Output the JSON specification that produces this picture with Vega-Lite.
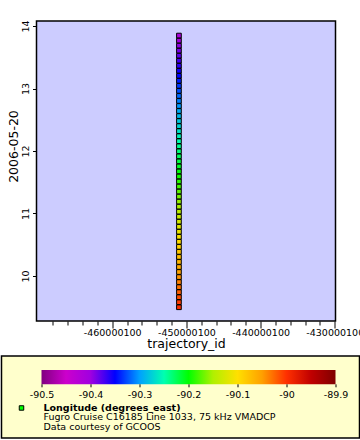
{
  "$schema": "https://vega.github.io/schema/vega-lite/v6.json",
  "background": "white",
  "padding": {"left": 0.5, "top": 19, "right": 0, "bottom": 0},
  "spacing": 4,
  "config": {
    "font": "DejaVu Sans",
    "axis": {"labelFont": "DejaVu Sans", "titleFont": "DejaVu Sans", "labelColor": "black", "titleColor": "black", "tickColor": "black", "domainColor": "black", "grid": false, "titleFontWeight": "normal"},
    "text": {"font": "DejaVu Sans"}
  },
  "vconcat": [
    {
      "width": 299,
      "height": 300,
      "view": {"fill": "#CCCCFF", "stroke": "black", "strokeWidth": 1.5},
      "data": {"values": [
        {"trajectory_id": -451000100, "hour": 9.500, "lon": -89.998},
        {"trajectory_id": -451000100, "hour": 9.581, "lon": -90.006},
        {"trajectory_id": -451000100, "hour": 9.661, "lon": -90.013},
        {"trajectory_id": -451000100, "hour": 9.742, "lon": -90.021},
        {"trajectory_id": -451000100, "hour": 9.822, "lon": -90.029},
        {"trajectory_id": -451000100, "hour": 9.903, "lon": -90.036},
        {"trajectory_id": -451000100, "hour": 9.983, "lon": -90.044},
        {"trajectory_id": -451000100, "hour": 10.064, "lon": -90.052},
        {"trajectory_id": -451000100, "hour": 10.144, "lon": -90.059},
        {"trajectory_id": -451000100, "hour": 10.225, "lon": -90.067},
        {"trajectory_id": -451000100, "hour": 10.305, "lon": -90.075},
        {"trajectory_id": -451000100, "hour": 10.386, "lon": -90.082},
        {"trajectory_id": -451000100, "hour": 10.466, "lon": -90.090},
        {"trajectory_id": -451000100, "hour": 10.547, "lon": -90.097},
        {"trajectory_id": -451000100, "hour": 10.627, "lon": -90.105},
        {"trajectory_id": -451000100, "hour": 10.708, "lon": -90.113},
        {"trajectory_id": -451000100, "hour": 10.788, "lon": -90.120},
        {"trajectory_id": -451000100, "hour": 10.869, "lon": -90.128},
        {"trajectory_id": -451000100, "hour": 10.949, "lon": -90.135},
        {"trajectory_id": -451000100, "hour": 11.030, "lon": -90.143},
        {"trajectory_id": -451000100, "hour": 11.110, "lon": -90.151},
        {"trajectory_id": -451000100, "hour": 11.191, "lon": -90.158},
        {"trajectory_id": -451000100, "hour": 11.271, "lon": -90.166},
        {"trajectory_id": -451000100, "hour": 11.352, "lon": -90.174},
        {"trajectory_id": -451000100, "hour": 11.432, "lon": -90.181},
        {"trajectory_id": -451000100, "hour": 11.513, "lon": -90.189},
        {"trajectory_id": -451000100, "hour": 11.593, "lon": -90.196},
        {"trajectory_id": -451000100, "hour": 11.674, "lon": -90.204},
        {"trajectory_id": -451000100, "hour": 11.754, "lon": -90.212},
        {"trajectory_id": -451000100, "hour": 11.835, "lon": -90.219},
        {"trajectory_id": -451000100, "hour": 11.915, "lon": -90.227},
        {"trajectory_id": -451000100, "hour": 11.996, "lon": -90.234},
        {"trajectory_id": -451000100, "hour": 12.076, "lon": -90.242},
        {"trajectory_id": -451000100, "hour": 12.157, "lon": -90.250},
        {"trajectory_id": -451000100, "hour": 12.237, "lon": -90.257},
        {"trajectory_id": -451000100, "hour": 12.318, "lon": -90.265},
        {"trajectory_id": -451000100, "hour": 12.398, "lon": -90.273},
        {"trajectory_id": -451000100, "hour": 12.479, "lon": -90.280},
        {"trajectory_id": -451000100, "hour": 12.559, "lon": -90.288},
        {"trajectory_id": -451000100, "hour": 12.640, "lon": -90.295},
        {"trajectory_id": -451000100, "hour": 12.720, "lon": -90.303},
        {"trajectory_id": -451000100, "hour": 12.801, "lon": -90.311},
        {"trajectory_id": -451000100, "hour": 12.881, "lon": -90.318},
        {"trajectory_id": -451000100, "hour": 12.962, "lon": -90.326},
        {"trajectory_id": -451000100, "hour": 13.042, "lon": -90.333},
        {"trajectory_id": -451000100, "hour": 13.123, "lon": -90.341},
        {"trajectory_id": -451000100, "hour": 13.203, "lon": -90.349},
        {"trajectory_id": -451000100, "hour": 13.284, "lon": -90.356},
        {"trajectory_id": -451000100, "hour": 13.364, "lon": -90.364},
        {"trajectory_id": -451000100, "hour": 13.445, "lon": -90.372},
        {"trajectory_id": -451000100, "hour": 13.525, "lon": -90.379},
        {"trajectory_id": -451000100, "hour": 13.606, "lon": -90.387},
        {"trajectory_id": -451000100, "hour": 13.686, "lon": -90.394},
        {"trajectory_id": -451000100, "hour": 13.767, "lon": -90.402},
        {"trajectory_id": -451000100, "hour": 13.847, "lon": -90.410}
      ]},
      "mark": {"type": "point", "shape": "square", "filled": true, "size": 22, "stroke": "black", "strokeWidth": 1, "opacity": 1},
      "encoding": {
        "x": {
          "field": "trajectory_id", "type": "quantitative",
          "scale": {"domain": [-470200000, -429900000], "nice": false, "zero": false},
          "axis": {
            "title": "trajectory_id", "titleFontSize": 12.5, "labelFontSize": 9.5,
            "values": [-468000100, -466000100, -464000100, -462000100, -460000100, -458000100, -456000100, -454000100, -452000100, -450000100, -448000100, -446000100, -444000100, -442000100, -440000100, -438000100, -436000100, -434000100, -432000100, -430000100],
            "labelExpr": "(abs(datum.value) - 100) % 10000000 == 0 ? '-' + format(abs(datum.value), 'd') : ''",
            "labelOverlap": false, "labelFlush": false, "domain": false,
            "tickSize": {"condition": {"test": "(abs(datum.value) - 100) % 10000000 == 0", "value": 7}, "value": 4},
            "labelPadding": -1, "titlePadding": 1
          }
        },
        "y": {
          "field": "hour", "type": "quantitative",
          "scale": {"domain": [9.28, 14.08], "nice": false, "zero": false},
          "axis": {
            "title": "2006-05-20", "titleFontSize": 12.5, "labelFontSize": 9.5,
            "titleY": 125,
            "values": [10, 11, 12, 13, 14], "format": "d",
            "labelAngle": 270, "labelAlign": "center", "labelBaseline": "bottom",
            "tickSize": 4, "labelPadding": 2, "domain": false, "titlePadding": 0
          }
        },
        "color": {
          "field": "lon", "type": "quantitative",
          "scale": {
            "domain": [-90.5, -90.45, -90.4, -90.35, -90.3, -90.25, -90.2, -90.15, -90.1, -90.05, -90, -89.95, -89.9],
            "range": ["#800080", "#CC00CC", "#A000E0", "#0000FF", "#00A0FF", "#00FFB0", "#00FF00", "#B0F000", "#FFE000", "#FFA000", "#FF3000", "#C00000", "#800000"],
            "interpolate": "rgb"
          },
          "legend": null
        }
      }
    },
    {
      "width": 323,
      "height": 82,
      "view": {"stroke": null},
      "layer": [
        {
          "data": {"values": [{"left": -90.581633, "right": -89.85102}]},
          "mark": {"type": "rect", "fill": "#FFFFCC", "stroke": "black", "strokeWidth": 1.5},
          "encoding": {
            "x": {
              "field": "left", "type": "quantitative",
              "scale": {"domain": [-90.510204, -89.85102], "nice": false, "zero": false},
              "axis": {
                "title": null, "orient": "bottom", "offset": -54.2, "domain": false,
                "values": [-90.5, -90.45, -90.4, -90.35, -90.3, -90.25, -90.2, -90.15, -90.1, -90.05, -90, -89.95, -89.9],
                "labelExpr": "round(datum.value * 100) % 10 == 0 ? '-' + format(abs(datum.value), '.1~f') : ''",
                "labelOverlap": false, "labelFlush": false, "labelFontSize": 9.5,
                "tickSize": 3, "labelPadding": 2.5, "zindex": 1
              }
            },
            "x2": {"field": "right"},
            "y": {"datum": -4.47, "type": "quantitative", "scale": {"domain": [-4.47, 4.16], "reverse": true, "nice": false, "zero": false}, "axis": null},
            "y2": {"datum": 4.16}
          }
        },
        {
          "data": {"values": [{"lo": -90.5, "hi": -89.9}]},
          "mark": {"type": "rect", "fill": {"gradient": "linear", "x1": 0, "y1": 0, "x2": 1, "y2": 0, "stops": [
            {"offset": 0, "color": "#800080"},
            {"offset": 0.0833, "color": "#CC00CC"},
            {"offset": 0.1667, "color": "#A000E0"},
            {"offset": 0.25, "color": "#0000FF"},
            {"offset": 0.3333, "color": "#00A0FF"},
            {"offset": 0.4167, "color": "#00FFB0"},
            {"offset": 0.5, "color": "#00FF00"},
            {"offset": 0.5833, "color": "#B0F000"},
            {"offset": 0.6667, "color": "#FFE000"},
            {"offset": 0.75, "color": "#FFA000"},
            {"offset": 0.8333, "color": "#FF3000"},
            {"offset": 0.9167, "color": "#C00000"},
            {"offset": 1, "color": "#800000"}
          ]}},
          "encoding": {
            "x": {"field": "lo", "type": "quantitative"},
            "x2": {"field": "hi"},
            "y": {"datum": -3.0, "type": "quantitative"},
            "y2": {"datum": -1.5}
          }
        },
        {
          "data": {"values": [{"line": 1, "label": "Longitude (degrees_east)"}]},
          "mark": {"type": "text", "align": "left", "baseline": "middle", "fontSize": 9.5, "fontWeight": "bold", "color": "black"},
          "encoding": {
            "x": {"datum": -90.495918, "type": "quantitative"},
            "y": {"field": "line", "type": "quantitative"},
            "text": {"field": "label"}
          }
        },
        {
          "data": {"values": [{"line": 2, "label": "Fugro Cruise C16185 Line 1033, 75 kHz VMADCP"}, {"line": 3, "label": "Data courtesy of GCOOS"}]},
          "mark": {"type": "text", "align": "left", "baseline": "middle", "fontSize": 9.5, "color": "black"},
          "encoding": {
            "x": {"datum": -90.495918, "type": "quantitative"},
            "y": {"field": "line", "type": "quantitative"},
            "text": {"field": "label"}
          }
        },
        {
          "data": {"values": [{"line": 1}]},
          "mark": {"type": "point", "shape": "square", "filled": true, "size": 20, "stroke": "black", "strokeWidth": 1, "opacity": 1, "color": "#00FF00"},
          "encoding": {
            "x": {"datum": -90.540816, "type": "quantitative"},
            "y": {"field": "line", "type": "quantitative"}
          }
        }
      ]
    }
  ]
}
